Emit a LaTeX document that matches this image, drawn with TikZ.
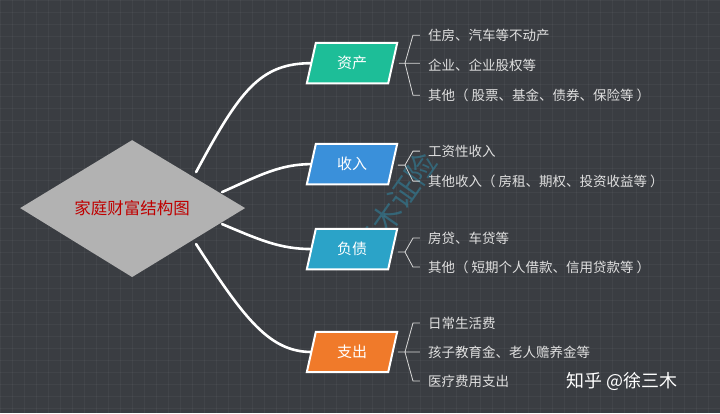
\documentclass[tikz,border=0pt]{standalone}
\usepackage{fontspec}
\setmainfont{Noto Sans CJK SC}
\begin{document}
\begin{tikzpicture}[x=1pt,y=-1pt,
  item/.style={anchor=west,text=white!88!black,font=\fontsize{13.5}{15}\selectfont,inner sep=0},
  link/.style={white,line width=2.6pt,line cap=round},
  brace/.style={white!85!black,line width=0.8pt},
  boxlabel/.style={text=white,font=\fontsize{15}{17}\selectfont,minimum width=80pt,minimum height=40pt,inner sep=0}]
\definecolor{bg}{HTML}{3A3D42}
\definecolor{cgreen}{HTML}{1DBE98}
\definecolor{cblue}{HTML}{3A90DA}
\definecolor{cteal}{HTML}{2BA3C8}
\definecolor{corange}{HTML}{F07A2A}
\fill[bg] (0,0) rectangle (720,413);
\foreach \x in {0,12,...,720} \draw[white,opacity=0.04] (\x,0)--(\x,413);
\foreach \y in {0,12,...,413} \draw[white,opacity=0.04] (0,\y)--(720,\y);
\useasboundingbox (0,0) rectangle (720,413);
% connectors
\coordinate (d1) at (196,172);
\coordinate (d2) at (222,192);
\coordinate (d3) at (222,224);
\coordinate (d4) at (196,244);
\node[boxlabel] (a) at (352,63) {};
\node[boxlabel] (b) at (352,164) {};
\node[boxlabel] (c) at (352,249) {};
\node[boxlabel] (e) at (352,352) {};
\draw[link] (d1) .. controls (240,90) and (260,63) .. (a.west);
\draw[link] (d2) .. controls (260,175) and (280,164) .. (b.west);
\draw[link] (d3) .. controls (260,240) and (280,249) .. (c.west);
\draw[link] (d4) .. controls (245,320) and (270,352) .. (e.west);
% watermark
\node[text=cteal,opacity=0.4,rotate=55,font=\fontsize{30}{32}\selectfont] (wm) at (395,205) {三木证险};
% diamond
\fill[white!70!black] (20,208)--(132,140)--(245,208)--(132,277)--cycle;
\node[text=red!75!black,font=\fontsize{16.5}{18}\selectfont] (ctr) at (132,208) {家庭财富结构图};
% boxes
\foreach \n/\c/\t in {a/cgreen/资产,b/cblue/收入,c/cteal/负债,e/corange/支出}{
  \filldraw[fill=\c,draw=white,line width=2pt]
    ([xshift=4pt]\n.north west)--([xshift=5pt]\n.north east)--([xshift=-4pt]\n.south east)--([xshift=-5pt]\n.south west)--cycle;
  \node[text=white,font=\fontsize{15}{17}\selectfont] at (\n) {\t};
}
% braces
\draw[brace] (420,35)--(413,35)--(405,63)--(413,95)--(420,95) (399,63)--(420,63);
\draw[brace] (420,151)--(413,151)--(405,165)--(413,181)--(420,181) (398,165)--(405,165);
\draw[brace] (420,238)--(413,238)--(405,252)--(413,267)--(420,267) (398,252)--(405,252);
\draw[brace] (420,323)--(413,323)--(405,352)--(413,381)--(420,381) (398,352)--(420,352);
\node[item] (i1) at (428,35) {住房、汽车等不动产};
\node[item] (i2) at (428,65) {企业、企业股权等};
\node[item] (i3) at (428,95) {其他（ 股票、基金、债券、保险等 ）};
\node[item] (i4) at (428,151) {工资性收入};
\node[item] (i5) at (428,181) {其他收入（ 房租、期权、投资收益等 ）};
\node[item] (i6) at (428,238) {房贷、车贷等};
\node[item] (i7) at (428,267) {其他（ 短期个人借款、信用贷款等 ）};
\node[item] (i8) at (428,323) {日常生活费};
\node[item] (i9) at (428,352) {孩子教育金、老人赡养金等};
\node[item] (i10) at (428,381) {医疗费用支出};
\node[text=white,font=\fontsize{18}{20}\selectfont,anchor=west] (zh) at (563,381) {知乎 @徐三木};
\end{tikzpicture}
\end{document}
